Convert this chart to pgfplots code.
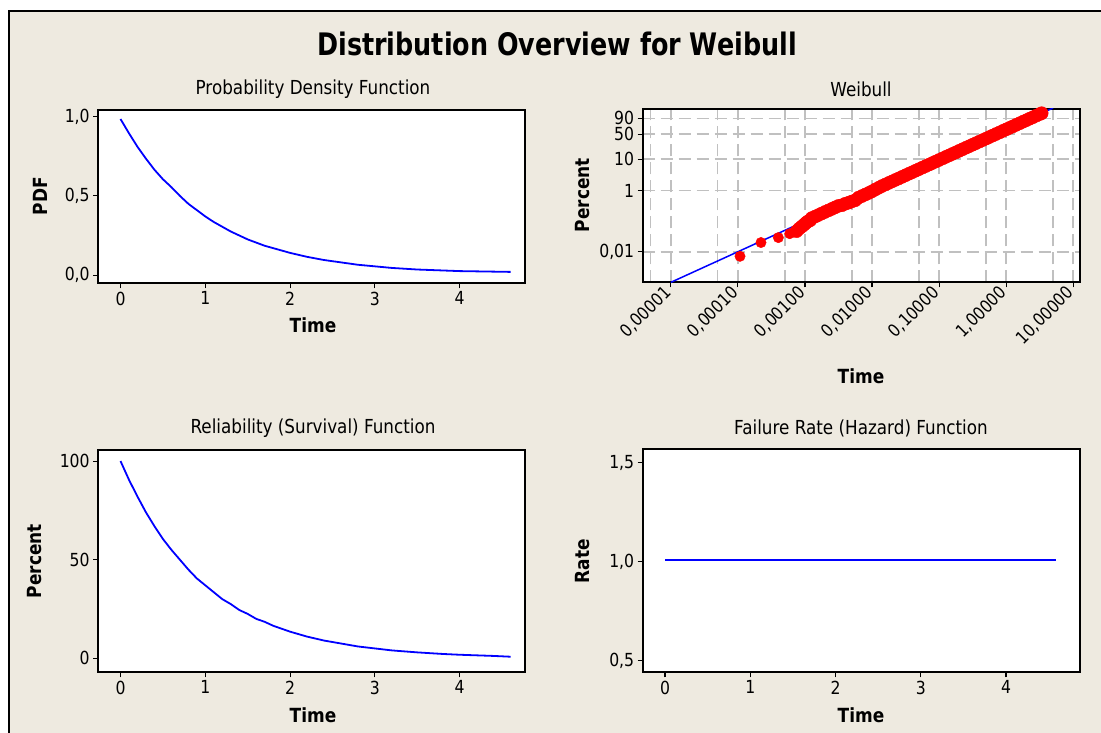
\documentclass[border=0pt]{standalone}
\usepackage{fontspec}
\setmainfont{DejaVu Sans}[FakeStretch=0.87]
\newfontfamily\titlefont{DejaVu Sans}[FakeStretch=0.82]
\usepackage{pgfplots}
\usepackage{pgfplotstable}
\pgfplotsset{compat=1.18}

\definecolor{panelbg}{HTML}{EEEAE0}
\definecolor{gridgray}{HTML}{C0C0C0}
\definecolor{curveblue}{HTML}{0000FF}
\definecolor{dotred}{HTML}{FF0000}

% probability density of the fitted distribution
\pgfplotstableread{
t f
0.0 0.985
0.1 0.895
0.2 0.810
0.3 0.735
0.4 0.665
0.5 0.605
0.6 0.555
0.7 0.500
0.8 0.450
0.9 0.410
1.0 0.370
1.1 0.335
1.2 0.305
1.3 0.275
1.4 0.250
1.5 0.225
1.6 0.205
1.7 0.185
1.8 0.170
1.9 0.155
2.0 0.140
2.2 0.115
2.4 0.095
2.6 0.080
2.8 0.065
3.0 0.055
3.2 0.045
3.5 0.035
4.0 0.025
4.6 0.020
}\pdfdata

% survival percentage
\pgfplotstableread{
t s
0.0 100
0.1 90.5
0.2 82
0.3 74
0.4 67
0.5 60.5
0.6 55
0.7 50
0.8 45
0.9 40.5
1.0 37
1.1 33.5
1.2 30
1.3 27.5
1.4 24.5
1.5 22.5
1.6 20
1.7 18.5
1.8 16.5
1.9 15
2.0 13.5
2.2 11
2.4 9
2.6 7.5
2.8 6
3.0 5
3.2 4
3.5 3
3.8 2.2
4.0 1.8
4.4 1.2
4.6 0.8
}\reldata

% hazard rate
\pgfplotstableread{
t h
0.0 1.008
4.59 1.008
}\hazdata

% fitted line on the probability plot (time, percent)
\pgfplotstableread{
t p
0.00001 0.001
5 99.326
}\fitline

% isolated smallest observations (time, percent)
\pgfplotstableread{
t p
0.0001076 0.0071
0.000221 0.020
0.000401 0.029
0.000593 0.039
}\lowpts

% remaining observations (time, percent)
\pgfplotstableread{
t p
0.00075 0.047
0.00082 0.057
0.00090 0.067
0.00097 0.077
0.00103 0.087
0.00110 0.097
0.00120 0.107
0.001259 0.126
0.001413 0.141
0.001585 0.158
0.001778 0.178
0.001995 0.200
0.002239 0.224
0.002512 0.251
0.002818 0.282
0.003162 0.316
0.003548 0.330
0.003981 0.370
0.004467 0.400
0.005012 0.440
0.005623 0.480
0.006310 0.590
0.007079 0.660
0.007943 0.740
0.008913 0.830
0.01 0.94
0.01122 1.08
0.01259 1.23
0.01413 1.403
0.01585 1.572
0.01778 1.762
0.01995 1.975
0.02239 2.214
0.02512 2.481
0.02818 2.779
0.03162 3.113
0.03548 3.486
0.03981 3.903
0.04467 4.369
0.05012 4.889
0.05623 5.468
0.0631 6.115
0.07079 6.834
0.07943 7.636
0.08913 8.527
0.1 9.516
0.1122 10.61
0.1259 11.83
0.1413 13.18
0.1585 14.66
0.1778 16.29
0.1995 18.09
0.2239 20.06
0.2512 22.22
0.2818 24.56
0.3162 27.12
0.3548 29.87
0.3981 32.84
0.4467 36.02
0.5012 39.42
0.5623 43.01
0.631 46.79
0.7079 50.73
0.7943 54.81
0.8913 58.99
1.0 63.21
1.122 67.44
1.259 71.61
1.413 75.66
1.585 79.50
1.778 83.10
1.995 86.40
2.239 89.34
2.512 91.89
2.818 94.03
3.162 95.77
3.388 96.62
}\bandpts

\pgfplotsset{
  panel/.style={
    scale only axis,
    anchor=south west,
    axis background/.style={fill=white},
    axis line style={black, line width=1.8pt},
    tick style={black, line width=1.1pt},
    tick align=outside,
    tick pos=left,
    major tick length=5pt,
    minor tick length=0pt,
    /pgf/number format/assume math mode=true,
    ticklabel style={font=\fontsize{18}{20}\selectfont},
  },
  curve/.style={curveblue, line width=1.8pt, no marks},
}

\begin{document}
\begin{tikzpicture}[
  declare function={wbl(\p)=ifthenelse(\p<5, ln(\p/100*(1+\p/200+(\p/100)^2/3)), ln(-ln(1-\p/100)));}
]
% page and panel background
\fill[white] (0pt,0pt) rectangle (1101pt,-733pt);
\useasboundingbox (0pt,0pt) rectangle (1101pt,-733pt);
\fill[panelbg] (9pt,-11pt) rectangle (1101pt,-733pt);
\draw[black, line width=2pt] (9pt,-733pt) -- (9pt,-11pt) -- (1101pt,-11pt);

% Probability density function
\begin{axis}[panel,
  at={(98.2pt,-283.3pt)}, width=426.8pt, height=173.3pt,
  xmin=-0.263, xmax=4.77, ymin=-0.052, ymax=1.042,
  xtick={0,1,2,3,4},
  ytick={0,0.5,1}, yticklabels={{0,0},{0,5},{1,0}},
]
\addplot[curve] table[x=t, y=f] {\pdfdata};
\end{axis}

% Weibull probability plot
\begin{axis}[panel,
  at={(642.7pt,-282.3pt)}, width=437.3pt, height=173.3pt,
  xmode=log, xmin=3.81e-6, xmax=12.6, ymin=-11.51, ymax=1.535,
  xtick={1e-5,1e-4,1e-3,1e-2,1e-1,1,10},
  xticklabels={{0,00001},{0,00010},{0,00100},{0,01000},{0,10000},{1,00000},{10,00000}},
  minor xtick={5e-6,5e-5,5e-4,5e-3,5e-2,0.5,5},
  ytick={-9.2103,-4.6002,-2.2504,-0.36651,0.83403},
  yticklabels={{0,01},1,10,50,90},
  xmajorgrids, xminorgrids, ymajorgrids,
  major grid style={gridgray, line width=1.6pt, dash pattern=on 12pt off 6pt},
  minor grid style={gridgray, line width=1.6pt, dash pattern=on 12pt off 6pt},
  xticklabel style={rotate=45, anchor=east, font=\fontsize{17.5}{19}\selectfont},
]
\addplot[curveblue, line width=1.5pt, no marks] table[x=t, y expr={wbl(\thisrow{p})}] {\fitline};
\addplot[only marks, mark=*, mark size=5.2pt, dotred, mark options={draw=none, fill=dotred}]
  table[x=t, y expr={wbl(\thisrow{p})}] {\lowpts};
\addplot[only marks, mark=*, mark size=6.5pt, dotred, mark options={draw=none, fill=dotred}]
  table[x=t, y expr={wbl(\thisrow{p})}] {\bandpts};
\end{axis}

% Reliability function
\begin{axis}[panel,
  at={(98.2pt,-672.3pt)}, width=426.8pt, height=222.3pt,
  xmin=-0.263, xmax=4.77, ymin=-7.1, ymax=105.6,
  xtick={0,1,2,3,4},
  ytick={0,50,100},
]
\addplot[curve] table[x=t, y=s] {\reldata};
\end{axis}

% Hazard function
\begin{axis}[panel,
  at={(642.7pt,-672.3pt)}, width=437.3pt, height=223pt,
  xmin=-0.262, xmax=4.868, ymin=0.441, ymax=1.568,
  xtick={0,1,2,3,4},
  ytick={0.5,1,1.5}, yticklabels={{0,5},{1,0},{1,5}},
]
\addplot[curve] table[x=t, y=h] {\hazdata};
\end{axis}

% titles and axis labels
\node[font=\titlefont\bfseries\fontsize{31}{35}\selectfont] at (557pt,-44pt) {Distribution Overview for Weibull};
\begin{scope}[every node/.style={font=\fontsize{19.3}{21}\selectfont}]
\node at (313pt,-89pt) {Probability Density Function};
\node at (861pt,-89pt) {Weibull};
\node at (313pt,-428pt) {Reliability (Survival) Function};
\node at (861pt,-428pt) {Failure Rate (Hazard) Function};
\end{scope}
\begin{scope}[every node/.style={font=\bfseries\fontsize{19.5}{21}\selectfont}]
\node at (313pt,-325pt) {Time};
\node at (861pt,-376pt) {Time};
\node at (313pt,-715pt) {Time};
\node at (861pt,-715pt) {Time};
\node[rotate=90] at (40pt,-196pt) {PDF};
\node[rotate=90] at (583pt,-195pt) {Percent};
\node[rotate=90] at (35pt,-561pt) {Percent};
\node[rotate=90] at (583pt,-561pt) {Rate};
\end{scope}
\end{tikzpicture}
\end{document}
